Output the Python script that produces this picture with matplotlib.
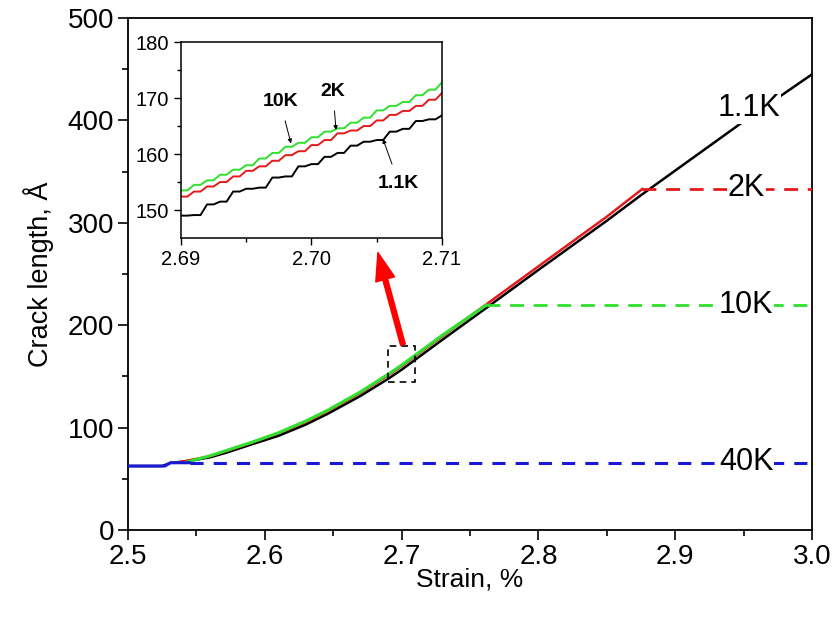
import numpy as np
import matplotlib.pyplot as plt
from matplotlib.patches import Rectangle

plt.rcParams['font.family'] = ['Liberation Sans', 'DejaVu Sans']

#---------------
# DATA
#---------------
# main curves (strain %, crack length A)
strain_11K = [2.500, 2.525, 2.531, 2.545, 2.560, 2.573, 2.590, 2.610, 2.630, 2.646,
              2.670, 2.690, 2.700, 2.730, 2.760, 2.800, 2.850, 2.874, 2.900, 2.950, 3.000]
crack_11K  = [62.5, 62.5, 65.5, 67.5, 71.0, 76.0, 83.5, 92.0, 103.0, 113.5,
              131.0, 147.5, 156.5, 186.0, 215.0, 254.0, 302.0, 326.0, 351.0, 399.0, 445.0]

strain_2K = [2.535, 2.560, 2.590, 2.610, 2.630, 2.646, 2.670, 2.690, 2.700, 2.730,
             2.760, 2.800, 2.850, 2.876]
crack_2K  = [65.7, 72.0, 85.0, 94.5, 105.5, 116.0, 134.0, 151.0, 160.0, 189.5,
             218.5, 257.5, 306.0, 333.0]

strain_10K = [2.542, 2.560, 2.590, 2.610, 2.630, 2.646, 2.670, 2.690, 2.700, 2.730, 2.762]
crack_10K  = [66.0, 72.5, 85.5, 95.0, 106.5, 117.0, 135.0, 152.0, 161.0, 190.5, 219.7]

strain_40K = [2.500, 2.527, 2.531, 2.545]
crack_40K  = [62.5, 62.5, 65.7, 65.7]

# arrested crack lengths (dashed)
arrest_2K = 333.0
arrest_10K = 219.7
arrest_40K = 65.7

# inset (zoom 2.69 - 2.71): step levels
inset_x = [2.690, 2.691, 2.692, 2.693, 2.694, 2.695, 2.696, 2.697, 2.698, 2.699, 2.700,
           2.701, 2.702, 2.703, 2.704, 2.705, 2.706, 2.707, 2.708, 2.709, 2.710]
inset_10K = [153.5, 154.5, 155.3, 156.3, 157.2, 158.0, 159.2, 160.2, 161.3, 162.0, 163.0,
             164.0, 164.6, 165.6, 166.5, 167.8, 168.6, 169.3, 170.5, 171.5, 172.8]
inset_2K  = [152.4, 153.3, 154.2, 155.0, 156.0, 157.0, 157.8, 158.8, 159.8, 160.5, 161.6,
             162.5, 163.7, 164.2, 165.0, 166.0, 167.0, 167.7, 168.6, 169.7, 170.9]
inset_11K = [149.0, 149.1, 151.0, 151.5, 153.3, 153.8, 154.0, 155.8, 156.0, 157.8, 158.2,
             159.5, 160.2, 161.5, 162.2, 162.5, 164.0, 164.5, 165.9, 166.2, 166.9]

c_black = 'black'
c_red = '#e31a1c'
c_green = '#2fe02f'
c_blue = '#1a1ad6'

#---------------
# PLOT
#---------------
fig = plt.figure(figsize=(8.37, 6.28), dpi=100)
ax = fig.add_axes([0.1529, 0.156, 0.8172, 0.8153])

ax.plot(strain_11K, crack_11K, color=c_black, lw=1.8, zorder=3)
ax.plot(strain_2K, crack_2K, color=c_red, lw=1.8, zorder=4)
ax.plot([strain_2K[-1], 3.0], [arrest_2K, arrest_2K], color=c_red, lw=2, ls=(0, (5, 3.5)), zorder=4)
ax.plot(strain_10K, crack_10K, color=c_green, lw=2.2, zorder=5)
ax.plot([strain_10K[-1], 3.0], [arrest_10K, arrest_10K], color=c_green, lw=2, ls=(0, (5, 3.5)), zorder=5)
ax.plot(strain_40K, crack_40K, color=c_blue, lw=2.2, zorder=6)
ax.plot([strain_40K[-1], 3.0], [arrest_40K, arrest_40K], color=c_blue, lw=2.2, ls=(0, (4.3, 3.3)), zorder=6)

# temperature labels
lab_kw = dict(fontsize=22, ha='center', va='center', zorder=7,
              bbox=dict(facecolor='white', edgecolor='none', pad=0.5))
ax.text(2.954, 412, '1.1K', **lab_kw)
ax.text(2.952, 334, '2K', **lab_kw)
ax.text(2.952, 220, '10K', **lab_kw)
ax.text(2.952, 66, '40K', **lab_kw)

# zoom box and arrow
ax.add_patch(Rectangle((2.69, 145), 0.02, 35, fill=False, ec='black', lw=1.2,
                       ls=(0, (4, 3)), zorder=8))
ax.annotate('', xy=(2.6827, 271), xytext=(2.701, 181),
            arrowprops=dict(facecolor='red', edgecolor='red', width=3.5,
                            headwidth=14, headlength=20, shrink=0), zorder=9)

ax.set_xlim(2.5, 3.0)
ax.set_ylim(0, 500)
ax.set_xticks([2.5, 2.6, 2.7, 2.8, 2.9, 3.0])
ax.set_xticks(np.arange(2.55, 3.0, 0.1), minor=True)
ax.set_yticks([0, 100, 200, 300, 400, 500])
ax.set_yticks([50, 150, 250, 350, 450], minor=True)
ax.tick_params(which='major', direction='out', length=7, width=1.2, labelsize=20, pad=3)
ax.tick_params(which='minor', direction='out', length=4, width=1.2)
for sp in ax.spines.values():
    sp.set_linewidth(1.3)
ax.set_xlabel('Strain, %', fontsize=19, labelpad=-2)
ax.set_ylabel('Crack length, Å', fontsize=19.5, labelpad=10)

#---------------
# INSET
#---------------
axin = fig.add_axes([0.2162, 0.621, 0.3118, 0.312])

def stair(xs, ys, w=0.0005):
    px, py = [], []
    for x, y in zip(xs, ys):
        px += [x, x + w]
        py += [y, y]
    return px[:-1], py[:-1]

sx, sy = stair(inset_x, inset_11K)
axin.plot(sx, sy, color=c_black, lw=1.4)
sx, sy = stair(inset_x, inset_2K)
axin.plot(sx, sy, color=c_red, lw=1.4)
sx, sy = stair(inset_x, inset_10K)
axin.plot(sx, sy, color=c_green, lw=1.4)

ann_kw = dict(fontsize=14, fontweight='bold', ha='center', va='center',
              arrowprops=dict(arrowstyle='-|>', color='black', lw=0.7, mutation_scale=6,
                              shrinkA=6, shrinkB=0))
axin.annotate('10K', xy=(2.69843, 161.9), xytext=(2.6976, 169.4), **ann_kw)
axin.annotate('2K', xy=(2.70188, 164.3), xytext=(2.70165, 171.2), **ann_kw)
axin.annotate('1.1K', xy=(2.70548, 162.7), xytext=(2.7067, 154.8), **ann_kw)

axin.set_xlim(2.69, 2.71)
axin.set_ylim(145, 180)
axin.set_xticks([2.69, 2.70, 2.71])
axin.set_xticklabels(['2.69', '2.70', '2.71'])
axin.set_xticks([2.695, 2.705], minor=True)
axin.set_yticks([150, 160, 170, 180])
axin.set_yticks([155, 165, 175], minor=True)
axin.tick_params(which='major', direction='out', length=5, width=1, labelsize=14.5)
axin.tick_params(which='minor', direction='out', length=3, width=1)
for sp in axin.spines.values():
    sp.set_linewidth(1.1)

fig.savefig('out.png', dpi=100)
